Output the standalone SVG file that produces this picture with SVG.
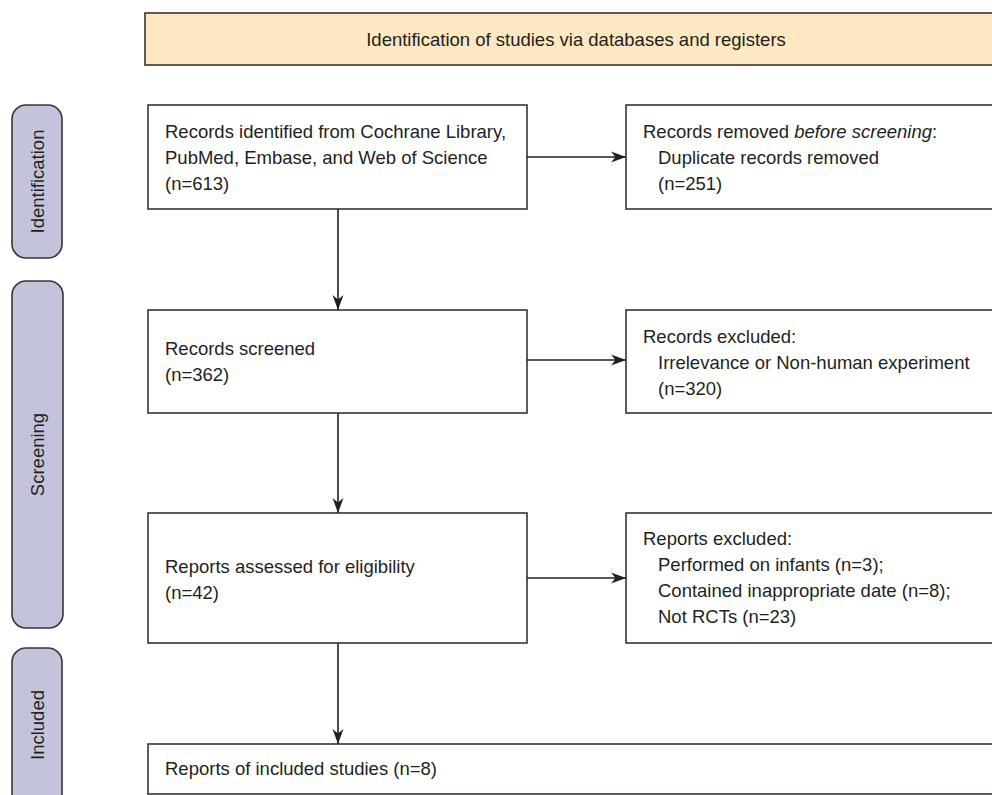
<svg xmlns="http://www.w3.org/2000/svg" width="992" height="795" viewBox="0 0 992 795">
<style>
text{font-family:"Liberation Sans",Arial,Helvetica,sans-serif;font-size:18.5px;fill:#231f20}
.box{fill:#fff;stroke:#3a3434;stroke-width:1.6}
.hdr{fill:#fde8c2;stroke:#3a3434;stroke-width:1.6}
.pill{fill:#c3c3dc;stroke:#3a3434;stroke-width:1.6}
.con{stroke:#231f20;stroke-width:1.6;fill:none}
</style>
<defs>
<marker id="ah" markerUnits="userSpaceOnUse" markerWidth="16" markerHeight="12" refX="15" refY="6" orient="auto">
<path d="M0,0.5 L15,6 L0,11.5 L4.5,6 Z" fill="#231f20"/>
</marker>
</defs>
<rect width="992" height="795" fill="#fff"/>
<g id="header">
<rect class="hdr" x="145" y="13" width="870" height="52"/>
<text x="576" y="46" text-anchor="middle">Identification of studies via databases and registers</text>
</g>
<g id="phase-identification">
<rect class="pill" x="12" y="105" width="50" height="153" rx="14"/>
<text transform="translate(44,181.5) rotate(-90)" text-anchor="middle">Identification</text>
</g>
<g id="phase-screening">
<rect class="pill" x="12" y="281" width="51" height="347" rx="14"/>
<text transform="translate(44,454.5) rotate(-90)" text-anchor="middle">Screening</text>
</g>
<g id="phase-included">
<rect class="pill" x="12" y="648" width="50" height="165" rx="14"/>
<text transform="translate(44,725) rotate(-90)" text-anchor="middle">Included</text>
</g>
<g id="records-identified">
<rect class="box" x="148" y="105" width="379" height="104"/>
<text x="165" y="138">Records identified from Cochrane Library,</text>
<text x="165" y="164">PubMed, Embase, and Web of Science</text>
<text x="165" y="190">(n=613)</text>
</g>
<g id="records-removed">
<rect class="box" x="626" y="105" width="380" height="104"/>
<text x="643" y="138">Records removed <tspan font-style="italic">before screening</tspan>:</text>
<text x="658" y="164">Duplicate records removed</text>
<text x="658" y="190">(n=251)</text>
</g>
<g id="records-screened">
<rect class="box" x="148" y="310" width="379" height="103"/>
<text x="165" y="355">Records screened</text>
<text x="165" y="381">(n=362)</text>
</g>
<g id="records-excluded">
<rect class="box" x="626" y="310" width="380" height="103"/>
<text x="643" y="343">Records excluded:</text>
<text x="658" y="369">Irrelevance or Non-human experiment</text>
<text x="658" y="395">(n=320)</text>
</g>
<g id="reports-assessed">
<rect class="box" x="148" y="513" width="379" height="130"/>
<text x="165" y="573">Reports assessed for eligibility</text>
<text x="165" y="599">(n=42)</text>
</g>
<g id="reports-excluded">
<rect class="box" x="626" y="513" width="380" height="130"/>
<text x="643" y="545">Reports excluded:</text>
<text x="658" y="571">Performed on infants (n=3);</text>
<text x="658" y="597">Contained inappropriate date (n=8);</text>
<text x="658" y="623">Not RCTs (n=23)</text>
</g>
<g id="included-studies">
<rect class="box" x="148" y="744" width="858" height="50"/>
<text x="165" y="775">Reports of included studies (n=8)</text>
</g>
<g id="connectors">
<line class="con" x1="527" y1="157" x2="626" y2="157" marker-end="url(#ah)"/>
<line class="con" x1="527" y1="360" x2="626" y2="360" marker-end="url(#ah)"/>
<line class="con" x1="527" y1="578" x2="626" y2="578" marker-end="url(#ah)"/>
<line class="con" x1="338" y1="209" x2="338" y2="310" marker-end="url(#ah)"/>
<line class="con" x1="338" y1="413" x2="338" y2="513" marker-end="url(#ah)"/>
<line class="con" x1="338" y1="643" x2="338" y2="744" marker-end="url(#ah)"/>
</g>
</svg>
